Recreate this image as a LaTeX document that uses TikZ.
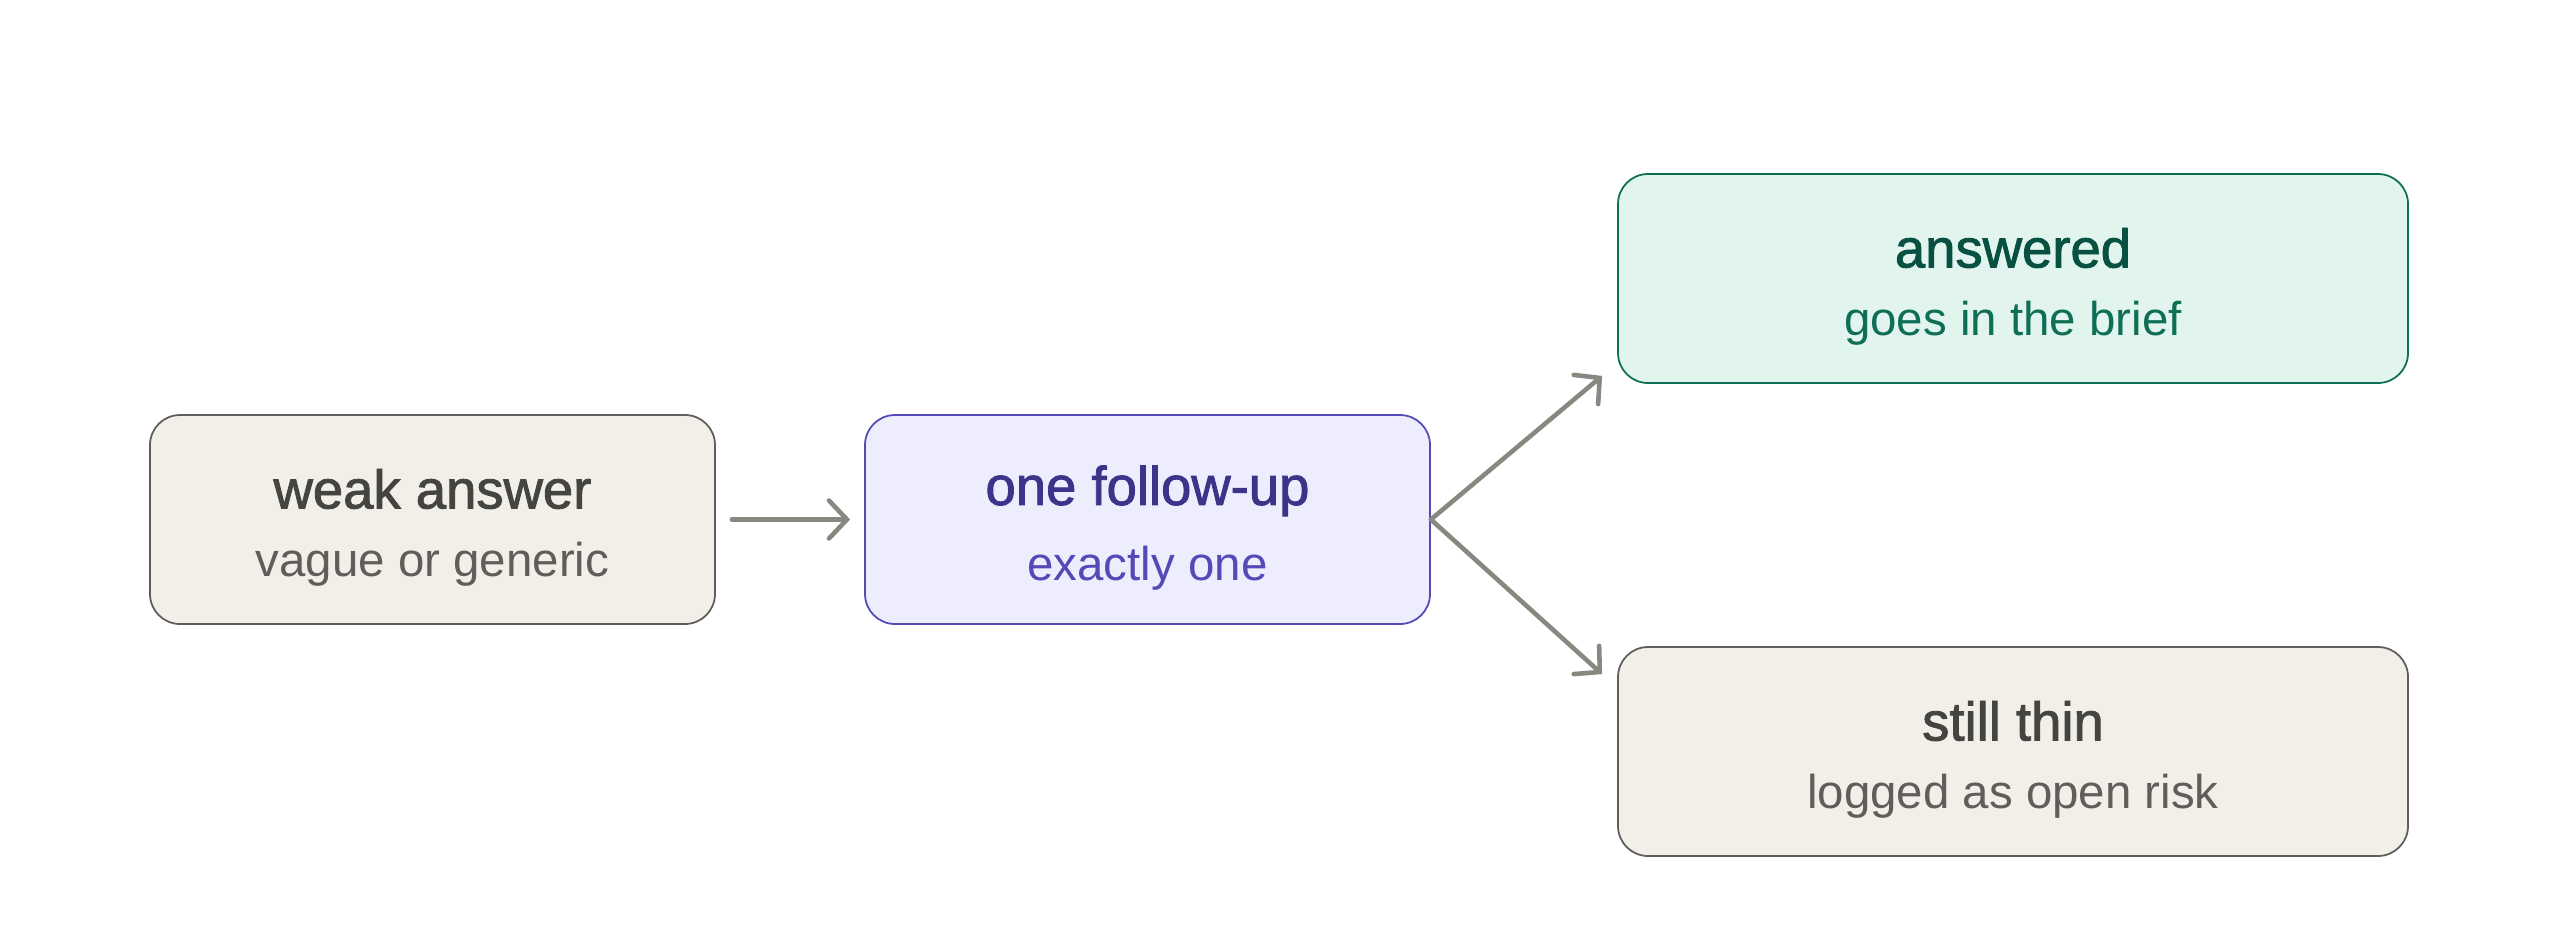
\documentclass[tikz,border=0pt]{standalone}
\usepackage{fontspec}
\setmainfont{Liberation Sans}
\newfontfamily\headfont{Liberation Sans}[FakeBold=1.6]
\usetikzlibrary{arrows.meta}

\begin{document}
\begin{tikzpicture}[
    box/.style={draw, rounded corners=0.3cm, line width=0.5pt, align=center,
      minimum height=2.09cm, inner sep=0pt},
    flow/.style={draw=colArrow, line width=1.3pt,
      -{Straight Barb[length=1.8mm,width=3.8mm,line cap=round]}, line cap=round}]
  \definecolor{colGreyFill}  {HTML}{F1EFE8}
  \definecolor{colGreyLine}  {HTML}{5F5E5A}
  \definecolor{colGreyHead}  {HTML}{444441}
  \definecolor{colPurpFill}  {HTML}{EEEDFE}
  \definecolor{colPurpLine}  {HTML}{534AB7}
  \definecolor{colPurpHead}  {HTML}{3C3489}
  \definecolor{colGreenFill} {HTML}{E1F5EE}
  \definecolor{colGreenLine} {HTML}{0F6E56}
  \definecolor{colGreenHead} {HTML}{085041}
  \definecolor{colArrow}     {HTML}{888780}
  \def\hd#1{{\rule{0pt}{16pt}\fontsize{15.5}{18}\selectfont\headfont #1}}
  \def\sb#1{{\fontsize{13.5}{16}\selectfont #1}}
  \useasboundingbox (0,0) rectangle (25.6,9.34);
  \node[box,fill=colGreyFill,draw=colGreyLine,minimum width=5.65cm]
    (weak) at (4.325,4.145)
    {\color{colGreyHead}\hd{weak answer}\\[7.5pt]\color{colGreyLine}\sb{vague or generic}};
  \node[box,fill=colPurpFill,draw=colPurpLine,minimum width=5.65cm]
    (follow) at (11.475,4.145)
    {\color{colPurpHead}\hd{one follow-up}\\[7.5pt]\color{colPurpLine}\sb{exactly one}};
  \node[box,fill=colGreenFill,draw=colGreenLine,minimum width=7.9cm]
    (answered) at (20.13,6.555)
    {\color{colGreenHead}\hd{answered}\\[7.5pt]\color{colGreenLine}\sb{goes in the brief}};
  \node[box,fill=colGreyFill,draw=colGreyLine,minimum width=7.9cm]
    (thin) at (20.13,1.825)
    {\color{colGreyHead}\hd{still thin}\\[7.5pt]\color{colGreyLine}\sb{logged as open risk}};
  \draw[flow,shorten <=0.16cm,shorten >=0.14cm](weak.east)--(follow.west);
  \draw[flow](follow.east)--([xshift=-0.15cm,yshift=0.08cm]answered.south west);
  \draw[flow](follow.east)--([xshift=-0.15cm,yshift=-0.28cm]thin.north west);
\end{tikzpicture}
\end{document}
